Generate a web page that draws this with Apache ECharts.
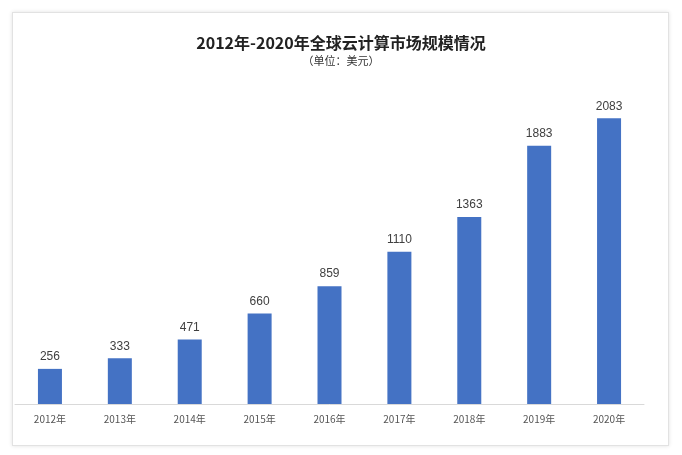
<!DOCTYPE html>
<html><head><meta charset="utf-8">
<script src="https://cdn.jsdelivr.net/npm/echarts@6/dist/echarts.min.js"></script>
<style>
body{margin:0;background:#fff;}
#card{position:absolute;left:12px;top:12px;width:655px;height:432px;border:1px solid #e2e2e2;box-shadow:0 0 4px rgba(0,0,0,0.12);background:#fff;}
#chart{position:absolute;left:0;top:0;width:682px;height:455px;}
</style></head>
<body>
<div id="card"></div>
<div id="chart"></div>
<script>
// 全球云计算市场规模
var years = ['2012年','2013年','2014年','2015年','2016年','2017年','2018年','2019年','2020年'];
var values = [256, 333, 471, 660, 859, 1110, 1363, 1883, 2083];

var myChart = echarts.init(document.getElementById('chart'));
myChart.setOption({
    title: {
        text: '2012年-2020年全球云计算市场规模情况',
        subtext: '（单位：美元）',
        left: 'center',
        top: 30,
        itemGap: 4,
        textStyle: {fontSize: 16, fontWeight: 'bold', color: '#222', fontFamily: 'Noto Sans CJK SC'},
        subtextStyle: {fontSize: 11, color: '#333', fontFamily: 'Noto Sans CJK SC'}
    },
    grid: {left: 15, right: 38, top: 61, bottom: 51},
    xAxis: {
        type: 'category',
        data: years,
        axisTick: {show: false},
        axisLine: {lineStyle: {color: '#d9d9d9'}},
        axisLabel: {fontSize: 10, color: '#555', margin: 10, fontFamily: 'Noto Sans CJK SC'}
    },
    yAxis: {type: 'value', min: 0, max: 2500, show: false, splitLine: {show: false}},
    series: [{
        type: 'bar',
        data: values,
        barWidth: 24,
        itemStyle: {color: '#4472C4'},
        label: {show: true, position: 'top', fontSize: 12, color: '#404040', distance: 6}
    }]
});
</script>
</body></html>
